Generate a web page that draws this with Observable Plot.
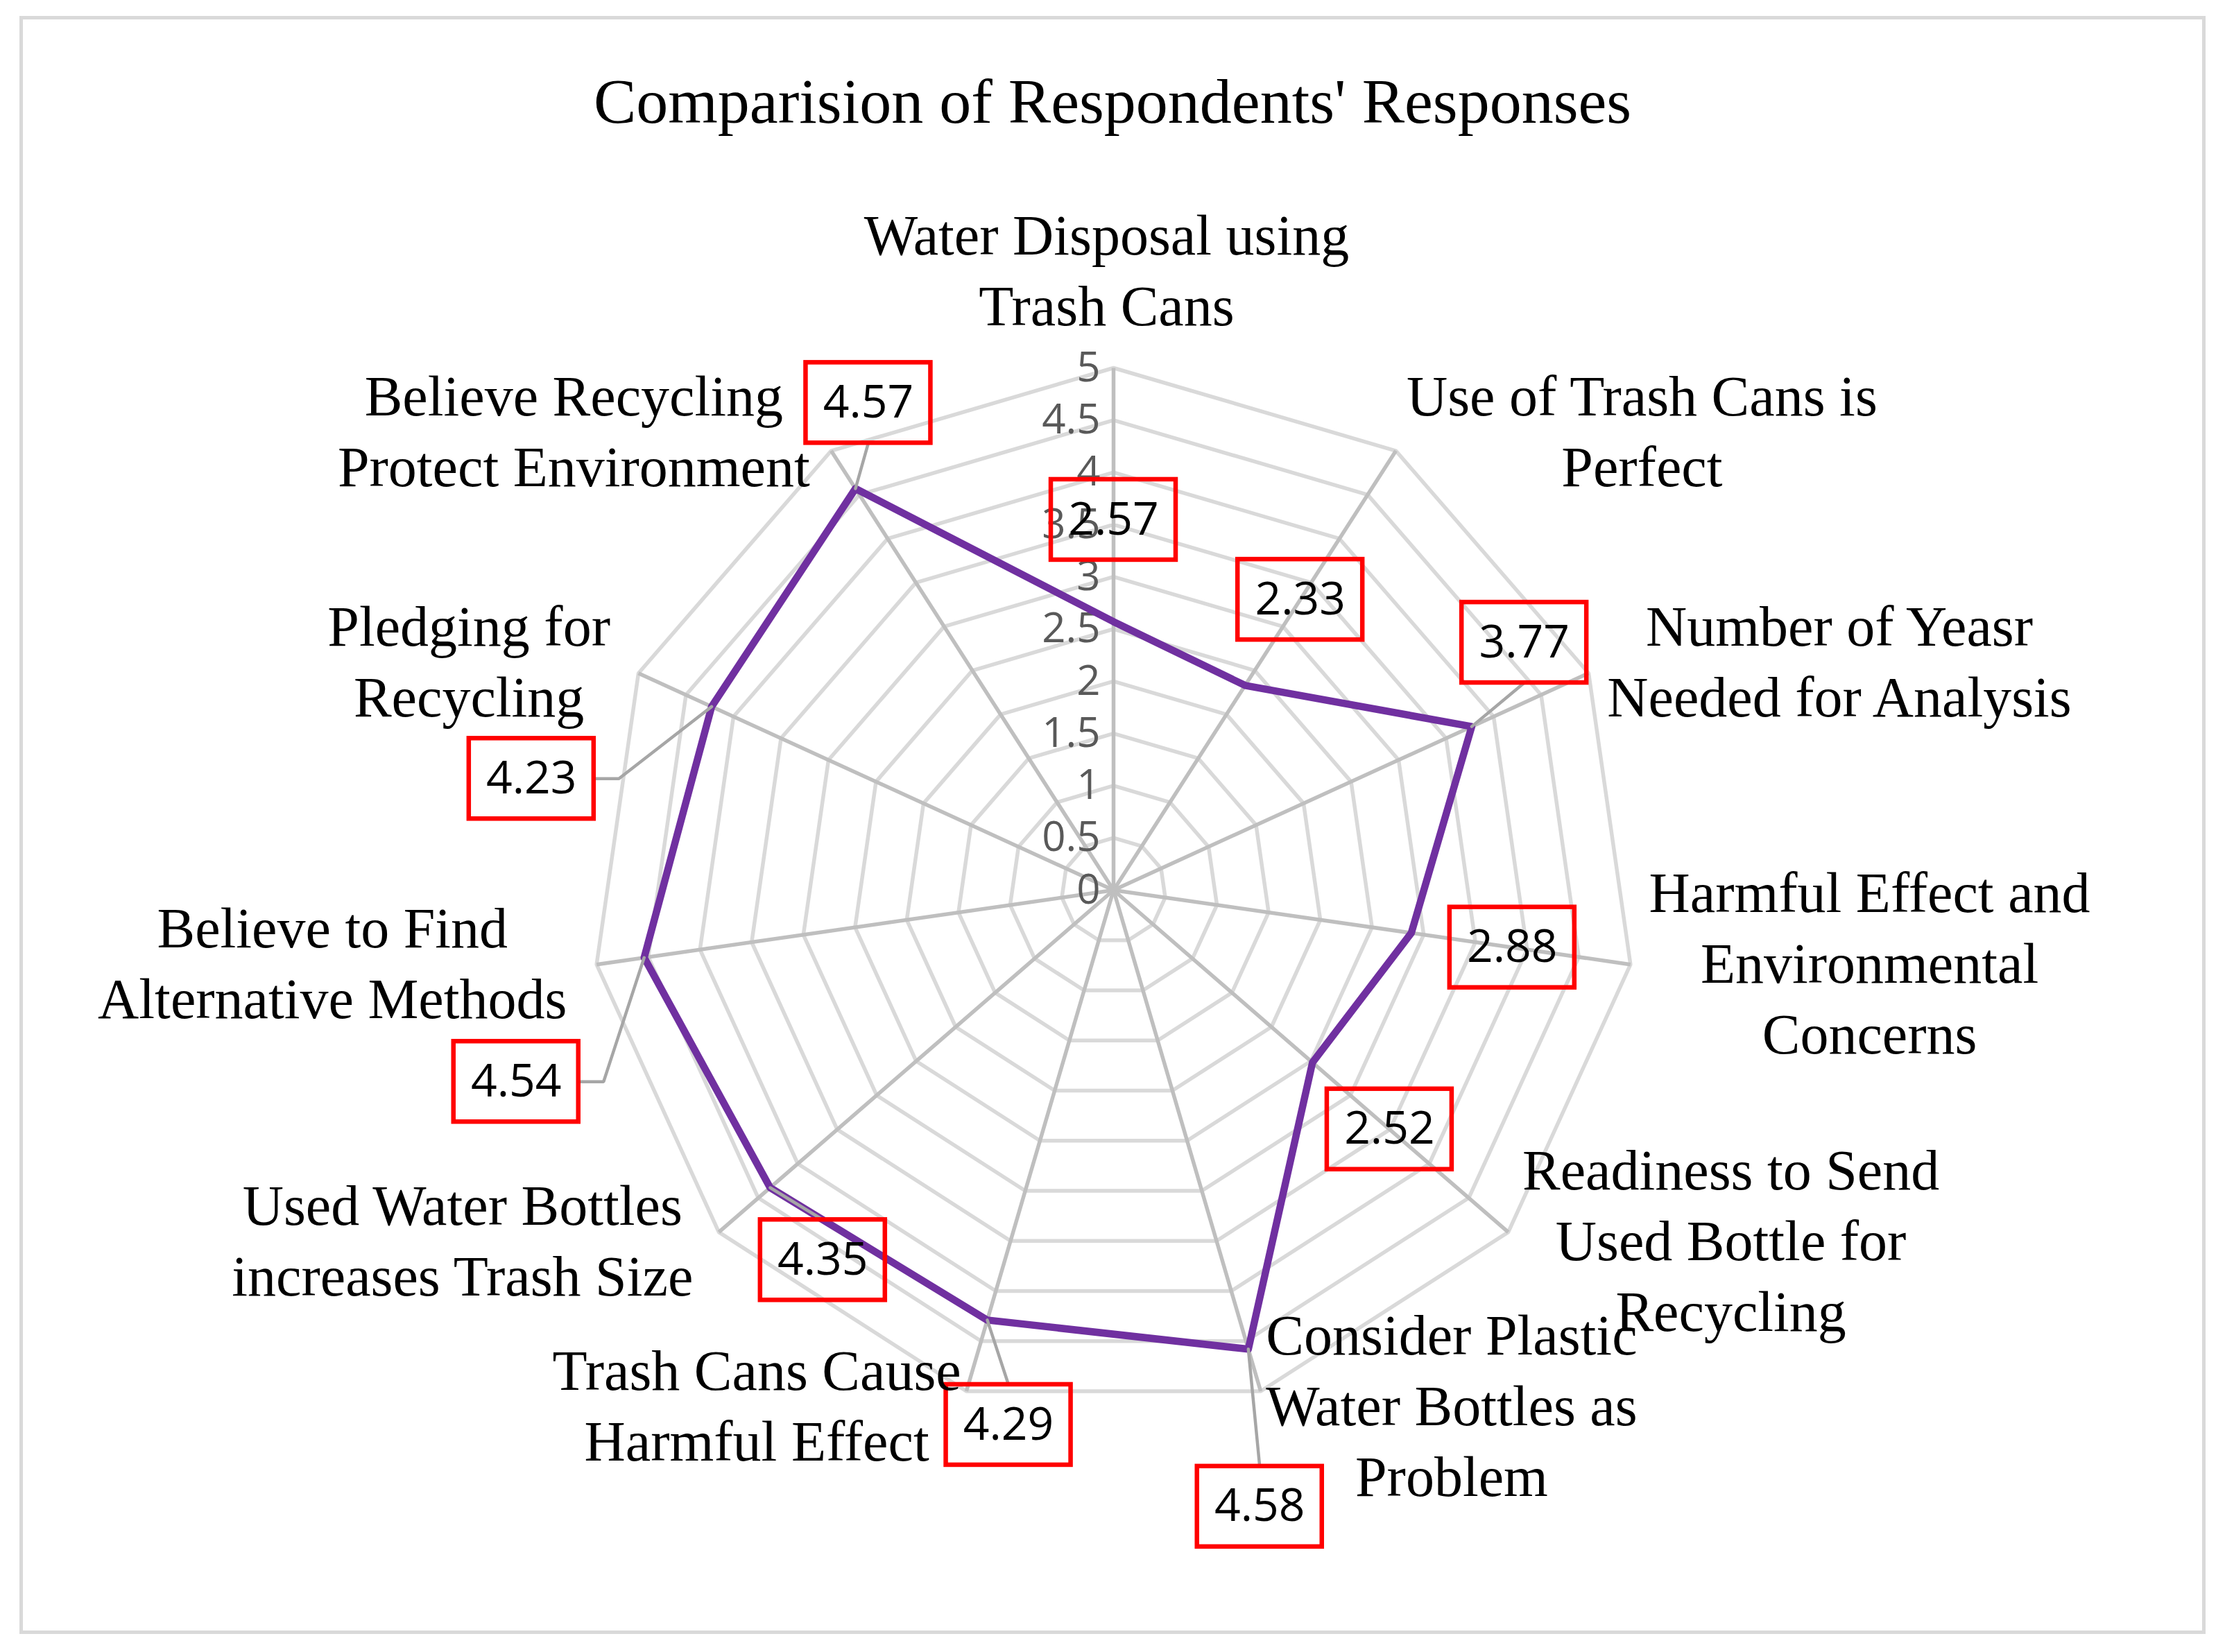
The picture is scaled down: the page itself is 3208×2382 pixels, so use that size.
<!DOCTYPE html>
<html>
<head>
<meta charset="utf-8">
<script src="https://cdn.jsdelivr.net/npm/d3@7"></script>
<script src="https://cdn.jsdelivr.net/npm/@observablehq/plot@0.6"></script>
<style>
  html, body { margin: 0; padding: 0; background: #ffffff; }
  #wrap { position: relative; width: 3208px; height: 2382px; overflow: hidden; background: #fff; }
  #frame { position: absolute; left: 28px; top: 23px; width: 3152px; height: 2333px; box-sizing: border-box; border: 5px solid #d9d9d9; }
  #title { position: absolute; left: 0; width: 3208px; top: 146px; transform: translateY(-50%); text-align: center;
           font-family: "Liberation Serif", serif; font-size: 92px; line-height: 1; color: #000; }
  #chart { position: absolute; left: 0; top: 0; }
</style>
</head>
<body>
<div id="wrap">
  <div id="frame"></div>
  <div id="title">Comparision of Respondents' Responses</div>
  <div id="chart"></div>
</div>
<script>
// ---------------- data ----------------
const categories = [
  "Water Disposal using\nTrash Cans",
  "Use of Trash Cans is\nPerfect",
  "Number of Yeasr\nNeeded for Analysis",
  "Harmful Effect and\nEnvironmental\nConcerns",
  "Readiness to Send\nUsed Bottle for\nRecycling",
  "Consider Plastic\nWater Bottles as\nProblem",
  "Trash Cans Cause\nHarmful Effect",
  "Used Water Bottles\nincreases Trash Size",
  "Believe to Find\nAlternative Methods",
  "Pledging for\nRecycling",
  "Believe Recycling\nProtect Environment"
];
const values = [2.57, 2.33, 3.77, 2.88, 2.52, 4.58, 4.29, 4.35, 4.54, 4.23, 4.57];
const valueLabels = ["2.57", "2.33", "3.77", "2.88", "2.52", "4.58", "4.29", "4.35", "4.54", "4.23", "4.57"];
const tickValues = [0, 0.5, 1, 1.5, 2, 2.5, 3, 3.5, 4, 4.5, 5];
const tickLabels = ["0", "0.5", "1", "1.5", "2", "2.5", "3", "3.5", "4", "4.5", "5"];
const ringValues = [0.5, 1, 1.5, 2, 2.5, 3, 3.5, 4, 4.5, 5];

// ---------------- layout (pixels) ----------------
const W = 3208, H = 2382;
const CX = 1605, CY = 1283, RPX = 753;      // centre and outer-ring radius
const RMAX = 5;
const k = RPX / RMAX;                         // px per unit
const labelDist = 147;                        // default data-label distance from point
const boxHW = 90, boxHH = 58;                 // data-label box half size
const elbow = 36;
// manual label drags (screen px) applied on top of default placement
const labelNudgePx = [[0,0],[0,0],[-58,-60],[0,0],[0,0],[-25,86],[72,10],[187,8],[-39,158],[-126,165],[98,0]];

const n = categories.length;
const ang = d3.range(n).map(i => 2 * Math.PI * i / n);
const toData = (sx, sy) => [(sx - CX) / k, (CY - sy) / k];

// grid rings
const rings = ringValues.flatMap(r => d3.range(n + 1).map(j => ({r, x: r * Math.sin(ang[j % n]), y: r * Math.cos(ang[j % n])})));
// spokes
const spokes = d3.range(n).map(i => ({x2: RMAX * Math.sin(ang[i]), y2: RMAX * Math.cos(ang[i])}));
// series
const series = d3.range(n + 1).map(j => ({x: values[j % n] * Math.sin(ang[j % n]), y: values[j % n] * Math.cos(ang[j % n])}));

// data labels, boxes, leaders
const boxes = [], leaders = [];
d3.range(n).forEach(i => {
  const s = Math.sin(ang[i]), c = Math.cos(ang[i]);
  const px = CX + values[i] * k * s, py = CY - values[i] * k * c;
  const [nx, ny] = labelNudgePx[i];
  const bx = px + labelDist * s + nx, by = py - labelDist * c + ny;
  const [dx1, dy1] = toData(bx - boxHW, by + boxHH);
  const [dx2, dy2] = toData(bx + boxHW, by - boxHH);
  const [cxD, cyD] = toData(bx, by);
  boxes.push({x1: dx1, y1: dy1, x2: dx2, y2: dy2, cx: cxD, cy: cyD, text: valueLabels[i]});
  if (nx !== 0 || ny !== 0) {
    let pts;
    if (Math.abs(px - bx) > boxHW) {
      const side = Math.sign(px - bx);
      const edgeX = bx + side * boxHW;
      pts = [[px, py], [edgeX + side * elbow, by], [edgeX, by]];
    } else {
      const ey = py < by ? by - boxHH : by + boxHH;
      pts = [[px, py], [bx, ey]];
    }
    pts.forEach(p => { const [x, y] = toData(p[0], p[1]); leaders.push({id: i, x, y}); });
  }
});

// category labels
const canvas = document.createElement("canvas");
const ctx = canvas.getContext("2d");
const catFont = 82;
ctx.font = `${catFont}px "Liberation Serif"`;
const catTop = [], catSide = [];
d3.range(n).forEach(i => {
  const s = Math.sin(ang[i]), c = Math.cos(ang[i]);
  const vx = CX + RPX * s, vy = CY - RPX * c;
  const bw = d3.max(categories[i].split("\n"), l => ctx.measureText(l).width);
  if (i === 0) {
    const [x, y] = toData(vx - 10, vy - 62);
    catTop.push({x, y, text: categories[i]});
  } else {
    const pxx = vx + 27 * s + (s < -0.5 ? -16 : 0), pyy = vy - 27 * c - 10;
    const cxx = Math.abs(s) < 0.05 ? pxx : pxx + Math.sign(s) * bw / 2;
    const [x, y] = toData(cxx, pyy);
    catSide.push({x, y, text: categories[i]});
  }
});

const plot = Plot.plot({
  width: W, height: H,
  marginTop: 0, marginRight: 0, marginBottom: 0, marginLeft: 0,
  x: {domain: [-CX / k, (W - CX) / k], axis: null},
  y: {domain: [-(H - CY) / k, CY / k], axis: null},
  style: {background: "transparent", overflow: "visible"},
  marks: [
    Plot.line(rings, {x: "x", y: "y", z: "r", stroke: "#d9d9d9", strokeWidth: 5.5, strokeLinejoin: "miter"}),
    Plot.link(spokes, {x1: () => 0, y1: () => 0, x2: "x2", y2: "y2", stroke: "#bfbfbf", strokeWidth: 5.5}),
    Plot.text(tickValues, {x: () => 0, y: d => d, text: (d, i) => tickLabels[i], textAnchor: "end", dx: -19,
      fill: "#595959", fontSize: 60, fontFamily: "Open Sans"}),
    Plot.line(series, {x: "x", y: "y", stroke: "#7030a0", strokeWidth: 10.5, strokeLinejoin: "round"}),
    Plot.line(leaders, {x: "x", y: "y", z: "id", stroke: "#a6a6a6", strokeWidth: 4.5, strokeLinejoin: "miter", curve: "linear"}),
    Plot.rect(boxes, {x1: "x1", x2: "x2", y1: "y1", y2: "y2", fill: "none", stroke: "#ff0000", strokeWidth: 6.5}),
    Plot.text(boxes, {x: "cx", y: "cy", text: "text", fill: "#000", fontSize: 66, fontFamily: "Open Sans"}),
    Plot.text(catTop, {x: "x", y: "y", text: "text", textAnchor: "middle", lineAnchor: "bottom", lineHeight: 1.244,
      fill: "#000", fontSize: catFont, fontFamily: "Liberation Serif"}),
    Plot.text(catSide, {x: "x", y: "y", text: "text", textAnchor: "middle", lineAnchor: "middle", lineHeight: 1.244,
      fill: "#000", fontSize: catFont, fontFamily: "Liberation Serif"})
  ]
});
document.getElementById("chart").appendChild(plot);
</script>
</body>
</html>
